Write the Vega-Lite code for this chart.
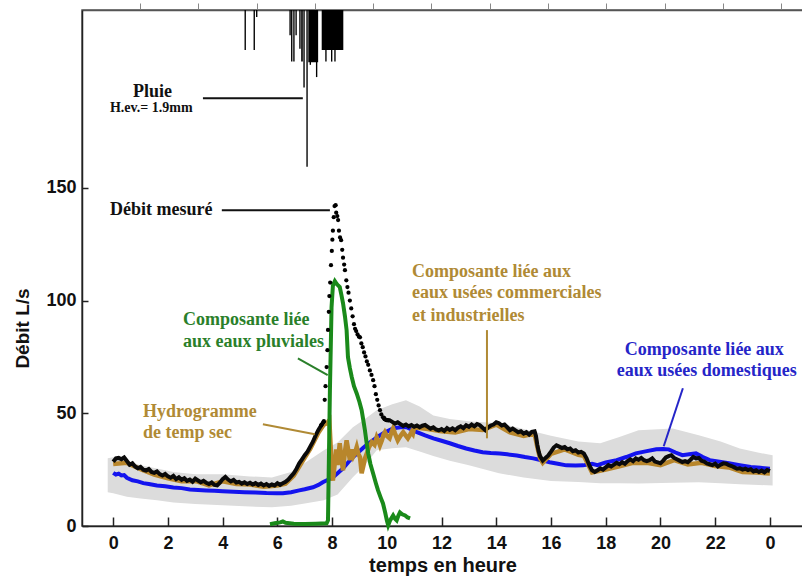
{
  "$schema": "https://vega.github.io/schema/vega-lite/v6.json",
  "width": 721,
  "height": 516,
  "autosize": {"type": "none"},
  "padding": {"left": 82, "top": 10, "right": 0, "bottom": 52},
  "background": "white",
  "config": {"view": {"stroke": "#555", "strokeWidth": 1.5}, "axis": {"grid": false}},
  "datasets": {
    "mesure": [
      {"t":0.0,"q":28.5},{"t":0.1,"q":30.0},{"t":0.2,"q":30.2},{"t":0.3,"q":29.6},{"t":0.4,"q":30.4},{"t":0.5,"q":28.8},{"t":0.6,"q":27.2},{"t":0.7,"q":27.8},{"t":0.8,"q":26.4},{"t":0.9,"q":25.6},
      {"t":1.0,"q":26.2},{"t":1.1,"q":25.0},{"t":1.2,"q":24.6},{"t":1.3,"q":25.3},{"t":1.4,"q":24.0},{"t":1.5,"q":23.6},{"t":1.6,"q":24.2},{"t":1.7,"q":23.0},{"t":1.8,"q":22.4},{"t":1.9,"q":23.1},
      {"t":2.0,"q":22.0},{"t":2.1,"q":21.4},{"t":2.2,"q":22.2},{"t":2.3,"q":20.8},{"t":2.4,"q":21.6},{"t":2.5,"q":20.5},{"t":2.6,"q":21.2},{"t":2.7,"q":20.0},{"t":2.8,"q":20.6},{"t":2.9,"q":19.6},
      {"t":3.0,"q":21.0},{"t":3.1,"q":20.2},{"t":3.2,"q":19.4},{"t":3.3,"q":20.0},{"t":3.4,"q":19.2},{"t":3.5,"q":18.6},{"t":3.6,"q":19.3},{"t":3.7,"q":18.2},{"t":3.8,"q":18.0},{"t":3.9,"q":19.2},
      {"t":4.0,"q":20.8},{"t":4.1,"q":21.8},{"t":4.2,"q":20.6},{"t":4.3,"q":19.8},{"t":4.4,"q":20.4},{"t":4.5,"q":19.3},{"t":4.6,"q":19.6},{"t":4.7,"q":18.8},{"t":4.8,"q":19.4},{"t":4.9,"q":18.6},
      {"t":5.0,"q":19.2},{"t":5.1,"q":18.4},{"t":5.2,"q":19.0},{"t":5.3,"q":18.2},{"t":5.4,"q":18.8},{"t":5.5,"q":18.0},{"t":5.6,"q":18.6},{"t":5.7,"q":17.8},{"t":5.8,"q":18.4},{"t":5.9,"q":18.0},
      {"t":6.0,"q":19.0},{"t":6.1,"q":18.2},{"t":6.2,"q":19.0},{"t":6.3,"q":19.6},{"t":6.4,"q":20.6},{"t":6.5,"q":22.0},{"t":6.6,"q":23.4},{"t":6.7,"q":25.4},{"t":6.8,"q":27.8},{"t":6.9,"q":29.6},
      {"t":7.0,"q":31.4},{"t":7.1,"q":33.0},{"t":7.2,"q":35.2},{"t":7.3,"q":37.4},{"t":7.4,"q":40.2},{"t":7.5,"q":42.6},{"t":7.6,"q":44.6},{"t":7.7,"q":46.5},
      {"t":7.62,"q":45.0},{"t":7.68,"q":46.0},{"t":7.73,"q":56.0},{"t":7.76,"q":62.0},{"t":7.8,"q":70.5},{"t":7.83,"q":78.0},{"t":7.85,"q":87.0},{"t":7.88,"q":95.0},{"t":7.9,"q":102.0},{"t":7.93,"q":108.0},
      {"t":7.96,"q":115.7},{"t":7.99,"q":122.0},{"t":8.01,"q":127.0},{"t":8.03,"q":131.0},{"t":8.06,"q":137.0},{"t":8.09,"q":141.9},{"t":8.13,"q":142.3},{"t":8.15,"q":139.0},{"t":8.19,"q":137.5},{"t":8.22,"q":135.7},
      {"t":8.25,"q":131.0},{"t":8.29,"q":128.0},{"t":8.33,"q":126.8},{"t":8.37,"q":122.5},{"t":8.4,"q":119.0},{"t":8.44,"q":116.0},{"t":8.47,"q":113.5},{"t":8.52,"q":109.0},{"t":8.56,"q":106.0},{"t":8.6,"q":103.5},
      {"t":8.65,"q":100.0},{"t":8.7,"q":96.5},{"t":8.75,"q":93.0},{"t":8.8,"q":89.5},{"t":8.84,"q":87.5},{"t":8.88,"q":86.5},{"t":8.93,"q":85.0},{"t":8.98,"q":84.0},{"t":9.02,"q":83.7},{"t":9.07,"q":81.0},
      {"t":9.12,"q":79.3},{"t":9.17,"q":77.0},{"t":9.22,"q":75.2},{"t":9.27,"q":73.0},{"t":9.32,"q":71.5},{"t":9.38,"q":69.0},{"t":9.44,"q":67.0},{"t":9.5,"q":64.7},{"t":9.55,"q":62.0},{"t":9.6,"q":58.5},
      {"t":9.65,"q":56.0},{"t":9.7,"q":53.5},{"t":9.75,"q":51.4},{"t":9.8,"q":49.5},{"t":9.86,"q":48.2},{"t":9.92,"q":47.4},{"t":9.98,"q":47.0},{"t":10.05,"q":46.9},
      {"t":9.9,"q":48.0},{"t":10.0,"q":47.0},{"t":10.1,"q":46.9},{"t":10.2,"q":46.2},{"t":10.3,"q":45.4},{"t":10.4,"q":46.0},{"t":10.5,"q":45.2},{"t":10.6,"q":44.4},{"t":10.7,"q":45.0},{"t":10.8,"q":44.2},
      {"t":10.9,"q":44.8},{"t":11.0,"q":44.0},{"t":11.1,"q":44.6},{"t":11.2,"q":43.8},{"t":11.3,"q":44.5},{"t":11.4,"q":44.8},{"t":11.5,"q":44.0},{"t":11.6,"q":43.2},{"t":11.7,"q":43.8},{"t":11.8,"q":42.8},
      {"t":11.9,"q":42.4},{"t":12.0,"q":43.0},{"t":12.1,"q":42.2},{"t":12.2,"q":43.4},{"t":12.3,"q":42.6},{"t":12.4,"q":43.3},{"t":12.5,"q":42.5},{"t":12.6,"q":43.6},{"t":12.7,"q":44.2},{"t":12.8,"q":43.4},
      {"t":12.9,"q":44.7},{"t":13.0,"q":44.0},{"t":13.1,"q":45.0},{"t":13.2,"q":44.2},{"t":13.3,"q":45.2},{"t":13.4,"q":44.7},{"t":13.5,"q":43.6},{"t":13.6,"q":42.5},{"t":13.7,"q":43.8},{"t":13.8,"q":44.6},
      {"t":13.9,"q":45.0},{"t":14.0,"q":46.0},{"t":14.1,"q":45.6},{"t":14.2,"q":44.6},{"t":14.3,"q":45.0},{"t":14.4,"q":43.8},{"t":14.5,"q":42.5},{"t":14.6,"q":43.2},{"t":14.7,"q":42.4},{"t":14.8,"q":41.6},
      {"t":14.9,"q":42.0},{"t":15.0,"q":41.0},{"t":15.1,"q":41.6},{"t":15.2,"q":40.6},{"t":15.3,"q":41.8},{"t":15.4,"q":42.0},{"t":15.45,"q":40.0},{"t":15.5,"q":36.0},{"t":15.55,"q":33.0},{"t":15.6,"q":31.0},
      {"t":15.7,"q":29.0},{"t":15.8,"q":30.2},{"t":15.9,"q":31.3},{"t":16.0,"q":33.0},{"t":16.1,"q":34.8},{"t":16.2,"q":35.8},{"t":16.3,"q":35.2},{"t":16.4,"q":34.6},{"t":16.5,"q":35.0},{"t":16.6,"q":34.0},
      {"t":16.7,"q":34.4},{"t":16.8,"q":33.2},{"t":16.9,"q":33.6},{"t":17.0,"q":32.6},{"t":17.1,"q":32.9},{"t":17.2,"q":32.2},{"t":17.3,"q":30.0},{"t":17.4,"q":27.0},{"t":17.5,"q":24.7},{"t":17.6,"q":24.0},
      {"t":17.7,"q":24.7},{"t":17.8,"q":25.6},{"t":17.9,"q":25.0},{"t":18.0,"q":26.0},{"t":18.1,"q":27.0},{"t":18.2,"q":26.4},{"t":18.3,"q":27.2},{"t":18.4,"q":28.0},{"t":18.5,"q":27.4},{"t":18.6,"q":28.3},
      {"t":18.7,"q":27.6},{"t":18.8,"q":28.8},{"t":18.9,"q":29.6},{"t":19.0,"q":28.8},{"t":19.1,"q":30.0},{"t":19.2,"q":29.4},{"t":19.3,"q":30.2},{"t":19.4,"q":29.2},{"t":19.5,"q":28.8},{"t":19.6,"q":29.2},
      {"t":19.7,"q":30.0},{"t":19.8,"q":28.6},{"t":19.9,"q":28.2},{"t":20.0,"q":27.8},{"t":20.1,"q":29.0},{"t":20.2,"q":30.4},{"t":20.3,"q":31.0},{"t":20.4,"q":31.4},{"t":20.5,"q":30.2},{"t":20.6,"q":29.6},
      {"t":20.7,"q":29.0},{"t":20.8,"q":28.4},{"t":20.9,"q":28.8},{"t":21.0,"q":28.3},{"t":21.1,"q":29.4},{"t":21.2,"q":30.6},{"t":21.3,"q":30.0},{"t":21.4,"q":30.2},{"t":21.5,"q":29.0},{"t":21.6,"q":28.6},
      {"t":21.7,"q":27.8},{"t":21.8,"q":27.4},{"t":21.9,"q":27.0},{"t":22.0,"q":27.6},{"t":22.1,"q":26.4},{"t":22.2,"q":27.2},{"t":22.3,"q":27.8},{"t":22.4,"q":27.6},{"t":22.5,"q":27.0},{"t":22.6,"q":26.6},
      {"t":22.7,"q":26.0},{"t":22.8,"q":25.4},{"t":22.9,"q":25.6},{"t":23.0,"q":25.0},{"t":23.1,"q":25.4},{"t":23.2,"q":24.8},{"t":23.3,"q":25.2},{"t":23.4,"q":24.2},{"t":23.5,"q":24.7},{"t":23.6,"q":24.0},
      {"t":23.7,"q":24.6},{"t":23.8,"q":23.8},{"t":23.9,"q":24.8},{"t":24.0,"q":24.3}
    ],
    "seche": [
      {"t":0.0,"q":27.5},{"t":0.5,"q":28.0},{"t":1.0,"q":25.2},{"t":1.5,"q":22.8},{"t":2.0,"q":21.2},{"t":2.5,"q":19.8},{"t":3.0,"q":20.0},{"t":3.5,"q":18.0},{"t":4.0,"q":19.8},{"t":4.5,"q":18.6},
      {"t":5.0,"q":18.4},{"t":5.5,"q":17.4},{"t":6.0,"q":18.0},{"t":6.3,"q":18.8},{"t":6.6,"q":22.4},{"t":6.9,"q":28.4},{"t":7.2,"q":34.2},{"t":7.5,"q":41.4},{"t":7.7,"q":45.0},{"t":7.8,"q":45.5},
      {"t":7.9,"q":46.9},{"t":7.95,"q":35.0},{"t":8.0,"q":22.0},{"t":8.03,"q":20.2},{"t":8.1,"q":28.0},{"t":8.15,"q":34.0},{"t":8.2,"q":27.0},{"t":8.28,"q":36.7},{"t":8.34,"q":30.0},{"t":8.4,"q":24.7},
      {"t":8.47,"q":33.0},{"t":8.53,"q":38.0},{"t":8.6,"q":33.0},{"t":8.65,"q":29.2},{"t":8.72,"q":34.0},{"t":8.78,"q":31.0},{"t":8.83,"q":32.2},{"t":8.9,"q":35.0},{"t":8.96,"q":32.0},{"t":9.02,"q":30.5},
      {"t":9.08,"q":23.4},{"t":9.15,"q":27.0},{"t":9.2,"q":30.0},{"t":9.27,"q":32.2},{"t":9.35,"q":35.0},{"t":9.45,"q":37.2},{"t":9.55,"q":36.0},{"t":9.63,"q":39.4},{"t":9.7,"q":37.5},{"t":9.75,"q":35.8},
      {"t":9.82,"q":38.0},{"t":9.88,"q":40.5},{"t":9.93,"q":41.6},{"t":10.0,"q":40.0},{"t":10.1,"q":38.9},{"t":10.18,"q":42.0},{"t":10.23,"q":43.3},{"t":10.3,"q":41.0},{"t":10.4,"q":38.0},{"t":10.5,"q":40.0},
      {"t":10.6,"q":41.6},{"t":10.7,"q":40.0},{"t":10.77,"q":38.9},{"t":10.85,"q":40.5},{"t":10.9,"q":41.6},{"t":10.95,"q":40.8},{"t":11.0,"q":43.8},{"t":11.5,"q":43.0},{"t":12.0,"q":42.0},{"t":12.5,"q":41.5},
      {"t":13.0,"q":43.0},{"t":13.5,"q":42.6},{"t":14.0,"q":45.0},{"t":14.5,"q":41.5},{"t":15.0,"q":40.0},{"t":15.4,"q":41.0},{"t":15.45,"q":38.0},{"t":15.5,"q":35.0},{"t":15.6,"q":30.0},{"t":15.7,"q":28.0},
      {"t":16.0,"q":32.0},{"t":16.5,"q":34.0},{"t":17.0,"q":31.6},{"t":17.2,"q":31.2},{"t":17.5,"q":23.8},{"t":18.0,"q":25.0},{"t":18.5,"q":26.5},{"t":19.0,"q":28.0},{"t":19.5,"q":28.0},{"t":20.0,"q":27.0},
      {"t":20.5,"q":29.2},{"t":21.0,"q":27.3},{"t":21.5,"q":28.0},{"t":22.0,"q":26.6},{"t":22.5,"q":26.0},{"t":23.0,"q":24.0},{"t":23.5,"q":23.7},{"t":24.0,"q":23.3}
    ],
    "domestique": [
      {"t":0.0,"q":23.6},{"t":0.1,"q":22.8},{"t":0.2,"q":23.2},{"t":0.3,"q":22.4},{"t":0.4,"q":22.6},{"t":0.5,"q":21.4},{"t":0.7,"q":20.3},{"t":0.9,"q":19.8},{"t":1.1,"q":19.0},{"t":1.3,"q":18.6},
      {"t":1.6,"q":18.0},{"t":1.9,"q":17.6},{"t":2.2,"q":17.1},{"t":2.5,"q":16.8},{"t":2.8,"q":16.2},{"t":3.1,"q":16.0},{"t":3.4,"q":15.8},{"t":3.7,"q":15.6},{"t":4.0,"q":15.4},{"t":4.4,"q":15.2},
      {"t":4.8,"q":15.0},{"t":5.2,"q":14.9},{"t":5.6,"q":14.6},{"t":6.0,"q":14.5},{"t":6.2,"q":14.5},{"t":6.5,"q":15.0},{"t":6.8,"q":15.8},{"t":7.0,"q":16.3},{"t":7.3,"q":17.2},{"t":7.5,"q":18.2},
      {"t":7.66,"q":19.4},{"t":7.85,"q":20.5},{"t":8.03,"q":21.6},{"t":8.2,"q":23.4},{"t":8.4,"q":25.6},{"t":8.6,"q":28.4},{"t":8.76,"q":30.5},{"t":8.95,"q":32.6},{"t":9.12,"q":34.5},{"t":9.3,"q":36.3},
      {"t":9.49,"q":38.0},{"t":9.7,"q":39.8},{"t":9.86,"q":41.0},{"t":10.05,"q":42.2},{"t":10.23,"q":43.3},{"t":10.5,"q":43.8},{"t":10.72,"q":43.8},{"t":10.9,"q":42.8},{"t":11.1,"q":41.6},{"t":11.4,"q":40.2},
      {"t":11.7,"q":38.9},{"t":12.0,"q":37.8},{"t":12.3,"q":36.7},{"t":12.6,"q":35.5},{"t":12.9,"q":34.4},{"t":13.2,"q":33.5},{"t":13.5,"q":32.7},{"t":13.8,"q":32.4},{"t":14.13,"q":32.2},{"t":14.4,"q":31.8},
      {"t":14.75,"q":31.3},{"t":15.05,"q":30.6},{"t":15.35,"q":30.0},{"t":15.65,"q":29.2},{"t":15.95,"q":28.3},{"t":16.25,"q":27.6},{"t":16.56,"q":26.9},{"t":16.9,"q":26.8},{"t":17.17,"q":26.9},{"t":17.5,"q":27.6},
      {"t":17.7,"q":27.0},{"t":18.0,"q":28.2},{"t":18.4,"q":29.2},{"t":18.75,"q":30.6},{"t":19.1,"q":32.2},{"t":19.5,"q":33.2},{"t":19.85,"q":34.0},{"t":20.1,"q":34.2},{"t":20.3,"q":34.0},{"t":20.55,"q":32.6},
      {"t":20.8,"q":31.4},{"t":21.05,"q":31.8},{"t":21.3,"q":32.2},{"t":21.55,"q":30.6},{"t":21.8,"q":29.2},{"t":22.1,"q":28.6},{"t":22.5,"q":27.8},{"t":22.9,"q":27.0},{"t":23.3,"q":26.2},{"t":23.65,"q":25.8},
      {"t":24.0,"q":25.4}
    ],
    "pluviale": [
      {"t":5.73,"q":0.8},{"t":5.9,"q":1.2},{"t":6.1,"q":1.6},{"t":6.2,"q":2.0},{"t":6.3,"q":1.4},{"t":6.6,"q":1.0},{"t":7.0,"q":0.9},{"t":7.4,"q":1.0},{"t":7.8,"q":1.2},{"t":7.85,"q":2.5},
      {"t":7.92,"q":60.0},{"t":7.98,"q":97.0},{"t":8.03,"q":106.7},{"t":8.1,"q":108.6},{"t":8.16,"q":107.5},{"t":8.22,"q":106.7},{"t":8.28,"q":106.0},{"t":8.34,"q":102.5},{"t":8.4,"q":98.8},{"t":8.47,"q":93.0},
      {"t":8.53,"q":86.9},{"t":8.58,"q":74.9},{"t":8.65,"q":70.0},{"t":8.72,"q":66.0},{"t":8.8,"q":62.0},{"t":8.9,"q":58.8},{"t":9.0,"q":55.0},{"t":9.08,"q":51.4},{"t":9.14,"q":47.0},{"t":9.2,"q":42.5},
      {"t":9.26,"q":37.0},{"t":9.32,"q":32.2},{"t":9.4,"q":27.5},{"t":9.5,"q":23.3},{"t":9.6,"q":19.0},{"t":9.68,"q":15.8},{"t":9.78,"q":12.5},{"t":9.86,"q":10.0},{"t":9.94,"q":6.0},{"t":10.0,"q":2.5},
      {"t":10.05,"q":0.3},{"t":10.12,"q":2.5},{"t":10.23,"q":4.7},{"t":10.3,"q":3.2},{"t":10.36,"q":2.5},{"t":10.42,"q":4.5},{"t":10.48,"q":6.0},{"t":10.56,"q":5.2},{"t":10.67,"q":4.7},{"t":10.76,"q":3.8},
      {"t":10.85,"q":3.4}
    ],
    "bande": [
      {"t":-0.2,"q":15.0,"q2":30.0},{"t":0.0,"q":14.5,"q2":30.5},{"t":0.5,"q":13.0,"q2":29.0},{"t":1.0,"q":12.2,"q2":27.0},{"t":1.6,"q":11.4,"q2":25.5},{"t":2.2,"q":10.4,"q2":24.0},{"t":3.0,"q":9.8,"q2":23.0},
      {"t":4.0,"q":9.2,"q2":23.0},{"t":5.0,"q":8.6,"q2":22.0},{"t":5.8,"q":8.3,"q2":21.5},{"t":6.5,"q":9.0,"q2":24.0},{"t":7.0,"q":10.0,"q2":28.0},{"t":7.7,"q":11.4,"q2":33.6},{"t":8.2,"q":14.0,"q2":37.0},
      {"t":8.76,"q":21.6,"q2":43.8},{"t":9.2,"q":27.0,"q2":47.5},{"t":9.63,"q":33.6,"q2":51.4},{"t":10.2,"q":34.5,"q2":54.0},{"t":10.7,"q":34.9,"q2":55.8},{"t":11.2,"q":33.0,"q2":53.0},{"t":11.7,"q":31.0,"q2":49.0},
      {"t":12.3,"q":29.0,"q2":47.5},{"t":13.0,"q":27.0,"q2":46.5},{"t":14.1,"q":23.4,"q2":45.6},{"t":15.0,"q":21.5,"q2":43.0},{"t":16.0,"q":20.0,"q2":40.0},{"t":17.0,"q":19.5,"q2":37.5},{"t":17.8,"q":19.0,"q2":36.7},
      {"t":18.5,"q":19.0,"q2":39.5},{"t":19.2,"q":18.9,"q2":42.5},{"t":20.45,"q":19.2,"q2":43.3},{"t":21.4,"q":19.4,"q2":40.3},{"t":22.2,"q":19.0,"q2":37.5},{"t":22.9,"q":18.5,"q2":34.4},{"t":23.6,"q":18.2,"q2":32.5},
      {"t":24.1,"q":18.0,"q2":31.4}
    ],
    "pluie": [
      {"t":4.8,"t2":4.85,"d":0.62},{"t":5.13,"t2":5.18,"d":0.62},{"t":5.22,"t2":5.27,"d":0.11},{"t":6.44,"t2":6.49,"d":0.39},{"t":6.5,"t2":6.55,"d":0.8},
      {"t":6.58,"t2":6.63,"d":0.8},{"t":6.66,"t2":6.71,"d":0.39},{"t":6.8,"t2":6.85,"d":0.6},{"t":6.87,"t2":6.93,"d":0.8},{"t":6.95,"t2":7.0,"d":1.2},
      {"t":7.06,"t2":7.11,"d":2.43},{"t":7.13,"t2":7.49,"d":0.81},{"t":7.18,"t2":7.23,"d":0.85},{"t":7.41,"t2":7.46,"d":1.04},{"t":7.62,"t2":8.41,"d":0.62},
      {"t":7.75,"t2":7.8,"d":0.8},{"t":7.96,"t2":8.01,"d":0.8},{"t":8.08,"t2":8.13,"d":0.8}
    ],
    "notes": [
      {"t":0.72,"q":192.5,"label":"Pluie","grp":"pluie"},
      {"t":-0.12,"q":140.1,"label":"Débit mesuré","grp":"mesure"},
      {"t":2.55,"q":91.3,"label":"Composante liée","grp":"pluviale"},
      {"t":2.55,"q":81.5,"label":"aux eaux pluviales","grp":"pluviale"},
      {"t":1.09,"q":50.5,"label":"Hydrogramme","grp":"seche"},
      {"t":1.09,"q":41.1,"label":"de temp sec","grp":"seche"},
      {"t":10.92,"q":112.6,"label":"Composante liée aux","grp":"industrielle"},
      {"t":10.92,"q":103.3,"label":"eaux usées commerciales","grp":"industrielle"},
      {"t":10.92,"q":93.1,"label":"et industrielles","grp":"industrielle"},
      {"t":18.7,"q":78.0,"label":"Composante liée aux","grp":"domestique"},
      {"t":18.4,"q":68.7,"label":"eaux usées domestiques","grp":"domestique"}
    ],
    "note_pluie": [
      {"t":-0.12,"q":185.4,"label":"H.ev.= 1.9mm","grp":"pluie"}
    ],
    "reperes": [
      {"t":3.28,"t2":6.93,"q":189.8,"q2":189.8,"grp":"pluie"},
      {"t":3.97,"t2":7.92,"q":140.1,"q2":140.1,"grp":"mesure"},
      {"t":6.75,"t2":7.84,"q":74.4,"q2":66.9,"grp":"pluviale"},
      {"t":5.47,"t2":7.37,"q":45.1,"q2":40.7,"grp":"seche"},
      {"t":13.66,"t2":13.66,"q":86.9,"q2":38.9,"grp":"industrielle"},
      {"t":20.82,"t2":20.12,"q":61.1,"q2":35.4,"grp":"domestique"}
    ]
  },
  "encoding": {
    "x": {"field": "t", "type": "quantitative", "scale": {"domain": [-1.14, 25.21], "nice": false, "zero": false}, "axis": null},
    "y": {"field": "q", "type": "quantitative", "scale": {"domain": [0, 228.9], "nice": false, "zero": false}, "axis": null}
  },
  "layer": [
    {
      "data": {"name": "bande"},
      "mark": {"type": "area", "color": "#dcdcdc", "opacity": 1},
      "encoding": {
        "x": {"field": "t", "type": "quantitative", "scale": {"domain": [-1.14, 25.21], "nice": false, "zero": false},
          "axis": {"orient": "bottom", "values": [0,2,4,6,8,10,12,14,16,18,20,22,24], "labelExpr": "datum.value == 24 ? '0' : datum.label",
            "title": "temps en heure", "tickSize": -9, "tickColor": "#222", "tickWidth": 1.5, "domainColor": "#222", "domainWidth": 1.5,
            "labelFont": "Liberation Sans", "labelFontWeight": "bold", "labelFontSize": 18, "labelColor": "#111", "labelPadding": 17,
            "labelFlush": false, "labelOverlap": false,
            "titleFont": "Liberation Sans", "titleFontWeight": "bold", "titleFontSize": 20, "titleColor": "#111", "titleY": 39, "titleBaseline": "middle"}},
        "y": {"field": "q", "type": "quantitative", "scale": {"domain": [0, 228.9], "nice": false, "zero": false},
          "axis": {"orient": "left", "values": [0,50,100,150], "title": "Débit L/s", "tickSize": -6, "tickColor": "#222", "tickWidth": 1.5,
            "domainColor": "#222", "domainWidth": 1.5, "labelFont": "Liberation Sans", "labelFontWeight": "bold", "labelFontSize": 18, "labelColor": "#111",
            "labelPadding": 12, "titleFont": "Liberation Sans", "titleFontWeight": "bold", "titleFontSize": 19, "titleColor": "#111",
            "titleX": -60, "titleY": 318, "titleAlign": "center", "titleBaseline": "middle", "titleAngle": -90}},
        "y2": {"field": "q2"}
      }
    },
    {
      "data": {"name": "pluie"},
      "mark": {"type": "rect", "color": "#000"},
      "encoding": {
        "x2": {"field": "t2"},
        "y": {"field": "d", "type": "quantitative", "scale": {"domain": [0, 8], "reverse": true, "nice": false, "zero": true}, "axis": null},
        "y2": {"datum": 0}
      }
    },
    {
      "data": {"name": "domestique"},
      "mark": {"type": "line", "color": "#1414ee", "strokeWidth": 4}
    },
    {
      "data": {"name": "seche"},
      "mark": {"type": "line", "color": "#b8862b", "strokeWidth": 4.5}
    },
    {
      "data": {"name": "mesure"},
      "transform": [{"filter": "datum.t <= 7.7"}],
      "mark": {"type": "line", "color": "#0a0a0a", "strokeWidth": 4}
    },
    {
      "data": {"name": "mesure"},
      "transform": [{"filter": "datum.t >= 9.9"}],
      "mark": {"type": "line", "color": "#0a0a0a", "strokeWidth": 4}
    },
    {
      "data": {"name": "pluviale"},
      "mark": {"type": "line", "color": "#1a8a1a", "strokeWidth": 4}
    },
    {
      "data": {"name": "mesure"},
      "transform": [{"filter": "datum.t >= 7.6 && datum.t <= 10.06"}],
      "mark": {"type": "circle", "color": "#000", "size": 18, "opacity": 1}
    },
    {
      "data": {"name": "reperes"},
      "mark": {"type": "rule", "strokeWidth": 2},
      "encoding": {
        "x2": {"field": "t2"},
        "y2": {"field": "q2"},
        "color": {"field": "grp", "type": "nominal", "legend": null,
          "scale": {"domain": ["pluie", "mesure", "pluviale", "seche", "industrielle", "domestique"],
                    "range": ["#111111", "#111111", "#2a7f2a", "#b08a35", "#b08a35", "#2525c8"]}}
      }
    },
    {
      "data": {"name": "notes"},
      "mark": {"type": "text", "align": "left", "baseline": "middle", "font": "Liberation Serif", "fontWeight": "bold", "fontSize": 18},
      "encoding": {
        "x": {"field": "t", "type": "quantitative", "scale": {"domain": [-1.14, 25.21], "nice": false, "zero": false},
          "axis": {"orient": "top", "values": [0.976, 3.107, 5.238, 7.369, 9.5, 11.631, 13.762, 15.893, 18.024, 20.155, 22.286, 24.417],
            "labels": false, "tickSize": 7, "tickColor": "#888", "domainColor": "#555", "domainWidth": 1.5, "title": null}},
        "text": {"field": "label"},
        "color": {"field": "grp", "type": "nominal", "legend": null}
      }
    },
    {
      "data": {"name": "note_pluie"},
      "mark": {"type": "text", "align": "left", "baseline": "middle", "font": "Liberation Serif", "fontWeight": "bold", "fontSize": 14},
      "encoding": {
        "text": {"field": "label"},
        "color": {"field": "grp", "type": "nominal", "legend": null}
      }
    }
  ],
  "resolve": {"scale": {"y": "independent"}, "axis": {"x": "independent"}}
}
